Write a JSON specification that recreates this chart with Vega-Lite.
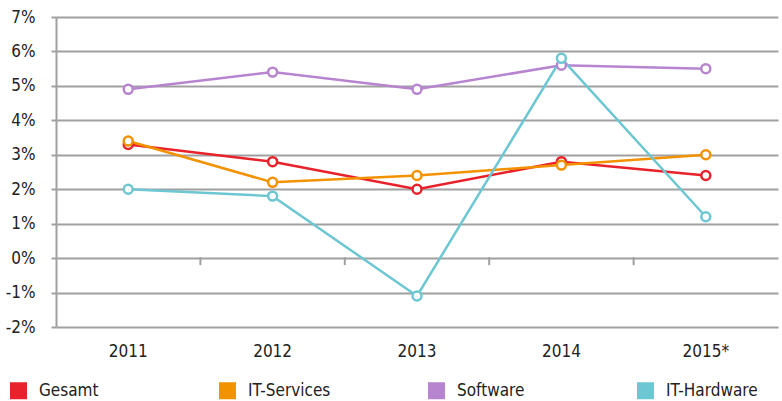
{
  "$schema": "https://vega.github.io/schema/vega-lite/v6.json",
  "autosize": {"type": "none"},
  "width": 722,
  "height": 310,
  "padding": {"left": 56, "top": 17, "right": 4, "bottom": 74},
  "background": "white",
  "config": {
    "font": "DejaVu Sans Condensed",
    "view": {"stroke": null}
  },
  "datasets": {
    "main": [
      {"year": "2011", "series": "Gesamt", "value": 3.3},
      {"year": "2012", "series": "Gesamt", "value": 2.8},
      {"year": "2013", "series": "Gesamt", "value": 2.0},
      {"year": "2014", "series": "Gesamt", "value": 2.8},
      {"year": "2015*", "series": "Gesamt", "value": 2.4},
      {"year": "2011", "series": "IT-Services", "value": 3.4},
      {"year": "2012", "series": "IT-Services", "value": 2.2},
      {"year": "2013", "series": "IT-Services", "value": 2.4},
      {"year": "2014", "series": "IT-Services", "value": 2.7},
      {"year": "2015*", "series": "IT-Services", "value": 3.0},
      {"year": "2011", "series": "Software", "value": 4.9},
      {"year": "2012", "series": "Software", "value": 5.4},
      {"year": "2013", "series": "Software", "value": 4.9},
      {"year": "2014", "series": "Software", "value": 5.6},
      {"year": "2015*", "series": "Software", "value": 5.5},
      {"year": "2011", "series": "IT-Hardware", "value": 2.0},
      {"year": "2012", "series": "IT-Hardware", "value": 1.8},
      {"year": "2013", "series": "IT-Hardware", "value": -1.1},
      {"year": "2014", "series": "IT-Hardware", "value": 5.8},
      {"year": "2015*", "series": "IT-Hardware", "value": 1.2}
    ],
    "ticks": [
      {"year": "2012", "value": 0},
      {"year": "2013", "value": 0},
      {"year": "2014", "value": 0},
      {"year": "2015*", "value": 0}
    ]
  },
  "encoding": {
    "x": {
      "field": "year", "type": "ordinal",
      "scale": {"domain": ["2011", "2012", "2013", "2014", "2015*"], "paddingInner": 0, "paddingOuter": 0},
      "axis": {"title": null, "labelAngle": 0, "domain": false, "ticks": false, "labelFontSize": 17, "labelColor": "#222", "labelPadding": 16}
    },
    "y": {
      "field": "value", "type": "quantitative",
      "scale": {"domain": [-2, 7], "nice": false, "zero": false},
      "axis": {"title": null, "values": [-2, -1, 0, 1, 2, 3, 4, 5, 6, 7], "labelExpr": "datum.value + '%'", "labelFontSize": 17, "labelColor": "#222", "labelPadding": 16, "gridColor": "#a0a0a0", "gridWidth": 2, "domainColor": "#a0a0a0", "domainWidth": 2, "tickColor": "#a0a0a0", "tickWidth": 2, "tickSize": 5}
    }
  },
  "layer": [
    {
      "data": {"name": "ticks"},
      "mark": {"type": "tick", "orient": "vertical", "color": "#a0a0a0", "thickness": 2, "size": 8, "yOffset": 3, "opacity": 1},
      "encoding": {
        "x": {"field": "year", "type": "ordinal", "bandPosition": 0},
        "y": {"field": "value", "type": "quantitative"}
      }
    },
    {
      "data": {"name": "main"},
      "mark": {"type": "line", "strokeWidth": 2.5, "point": {"filled": false, "fill": "white", "size": 80, "strokeWidth": 2.5}},
      "encoding": {
        "color": {
          "field": "series", "type": "nominal",
          "scale": {"domain": ["Gesamt", "IT-Services", "Software", "IT-Hardware"], "range": ["#e8212a", "#f39200", "#b784d0", "#6cc7d2"]},
          "legend": {
            "title": null, "orient": "none", "legendX": -46, "legendY": 365,
            "direction": "horizontal", "columns": 4, "columnPadding": 74, "gridAlign": "all",
            "symbolType": "square", "symbolSize": 64, "symbolStrokeWidth": 9, "symbolOpacity": 1,
            "labelFontSize": 17, "labelColor": "#222", "labelOffset": 12, "labelLimit": 200,
            "values": ["Gesamt", "IT-Services", "Software", "IT-Hardware"]
          }
        }
      }
    }
  ]
}
